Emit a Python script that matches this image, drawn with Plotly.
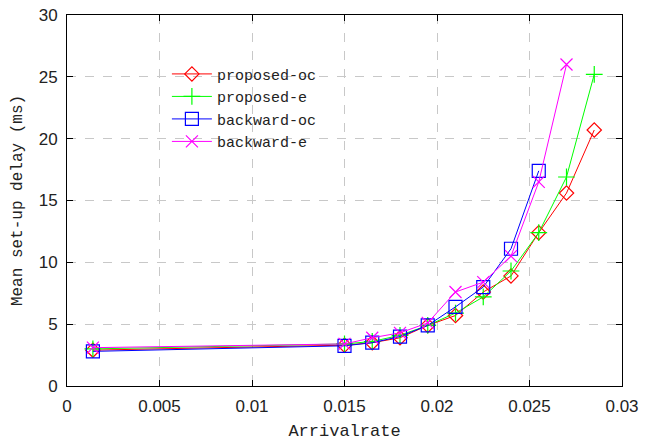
import plotly.graph_objects as go

arrival_rate = [0.0014, 0.015, 0.0165, 0.018, 0.0195, 0.021, 0.0225, 0.024, 0.0255, 0.027, 0.0285]
proposed_oc = [2.9, 3.3, 3.5, 3.9, 4.9, 5.7, 7.6, 8.9, 12.4, 15.6, 20.7]
proposed_e = [3.0, 3.4, 3.6, 4.1, 4.9, 5.9, 7.2, 9.3, 12.4, 16.9, 25.2]
backward_oc = [2.8, 3.25, 3.5, 4.0, 4.9, 6.4, 8.0, 11.1, 17.4]
backward_e = [3.1, 3.4, 3.9, 4.3, 5.1, 7.6, 8.4, 10.5, 16.5, 26.0]

x_ticks = [0, 0.005, 0.01, 0.015, 0.02, 0.025, 0.03]
x_tick_labels = ["0", "0.005", "0.01", "0.015", "0.02", "0.025", "0.03"]
y_ticks = [0, 5, 10, 15, 20, 25, 30]

series = [
    ("proposed-oc", proposed_oc, "#ff0000", "diamond-open", 11),
    ("proposed-e", proposed_e, "#00ff00", "cross-thin-open", 12),
    ("backward-oc", backward_oc, "#0000ff", "square-open", 13),
    ("backward-e", backward_e, "#ff00ff", "x-thin-open", 12),
]

fig = go.Figure()
for name, vals, color, sym, size in series:
    fig.add_trace(go.Scatter(
        x=arrival_rate[:len(vals)], y=vals, name=name, mode="lines+markers",
        line=dict(color=color, width=1),
        marker=dict(symbol=sym, size=size, color=color, line=dict(color=color, width=1.2)),
    ))

grid = dict(showgrid=True, gridcolor="#c8c8c8", griddash="dash", gridwidth=1,
            showline=True, linecolor="black", linewidth=1, mirror="ticks",
            ticks="inside", ticklen=6, tickcolor="black", zeroline=False,
            automargin=False, ticklabelstandoff=5,
            tickfont=dict(family="Liberation Sans", size=17, color="#222"))

fig.update_layout(
    width=646, height=441,
    margin=dict(l=67, r=24, t=15, b=55, autoexpand=False),
    paper_bgcolor="white", plot_bgcolor="white",
    xaxis=dict(range=[0, 0.03], tickvals=x_ticks, ticktext=x_tick_labels,
               title=dict(text="Arrivalrate", font=dict(family="Liberation Mono", size=17, color="#222"), standoff=10),
               **grid),
    yaxis=dict(range=[0, 30], tickvals=y_ticks,
               title=dict(text="Mean set-up delay (ms)", font=dict(family="Liberation Mono", size=16, color="#222"), standoff=12),
               **grid),
    legend=dict(x=0.18, y=0.885, xanchor="left", yanchor="top",
                bgcolor="rgba(255,255,255,0)", borderwidth=0,
                font=dict(family="Liberation Mono", size=15, color="#222"),
                tracegroupgap=0, itemwidth=40),
    showlegend=True,
)

fig.write_html("out.html", config={"displayModeBar": False},
               post_script="document.body.style.margin='0';")
